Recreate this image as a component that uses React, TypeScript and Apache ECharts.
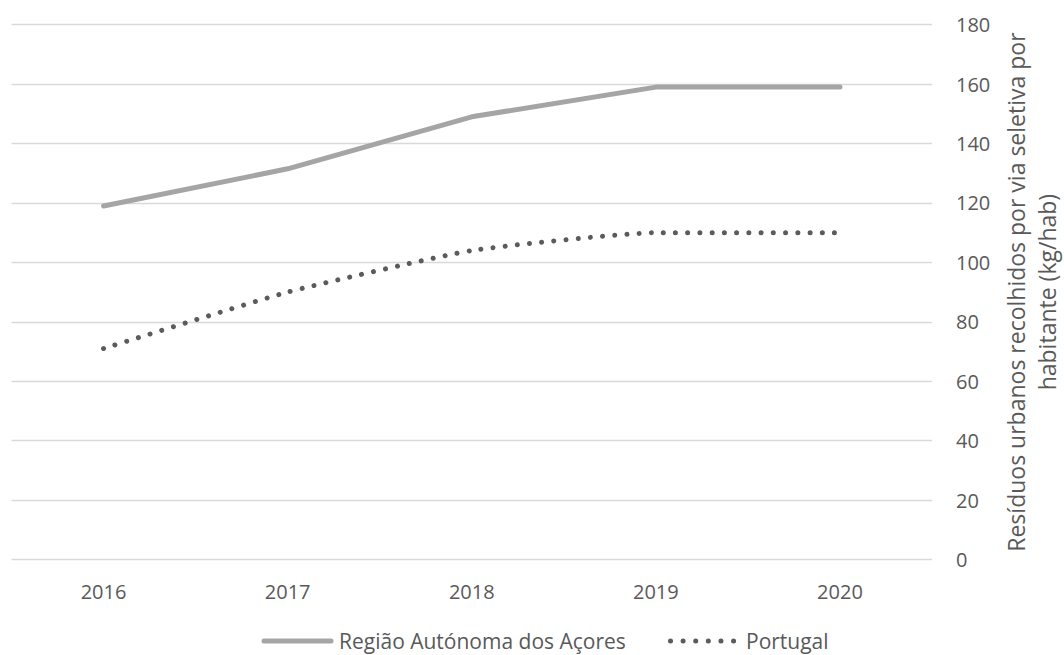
import React, { useEffect, useRef } from "react";
import * as echarts from "echarts";

const years = ["2016", "2017", "2018", "2019", "2020"];
const acoresValues = [119, 131.5, 149, 159, 159];
const portugalValues = [71, 90, 104, 110, 110];
const seriesNames = ["Região Autónoma dos Açores", "Portugal"];
const axisTitle = "Resíduos urbanos recolhidos por via seletiva por\nhabitante (kg/hab)";

const FONT = "'Open Sans', 'Noto Sans', sans-serif";
const TXT = "#595959";
const ACORES_COLOR = "#a5a5a5";
const PORTUGAL_COLOR = "#5b5b5b";

export default function App() {
  const ref = useRef<HTMLDivElement>(null);
  useEffect(() => {
    if (!ref.current) return;
    const chart = echarts.init(ref.current, undefined, { renderer: "svg" });
    const gridTop = 24.7;
    const gridBottomY = 559.5;
    chart.setOption({
      animation: false,
      backgroundColor: "#ffffff",
      textStyle: { fontFamily: FONT },
      grid: { left: 11.5, right: 132, top: gridTop, bottom: 655 - gridBottomY, containLabel: false },
      xAxis: {
        type: "category",
        data: years,
        boundaryGap: true,
        axisLine: { show: false },
        axisTick: { show: false },
        axisLabel: { color: TXT, fontSize: 20, fontFamily: FONT, margin: 22 },
      },
      yAxis: {
        type: "value",
        position: "right",
        min: 0,
        max: 180,
        interval: 20,
        axisLine: { show: false },
        axisTick: { show: false },
        splitLine: { lineStyle: { color: "#d9d9d9", width: 1.3 } },
        axisLabel: { color: TXT, fontSize: 20, fontFamily: FONT, margin: 24 },
      },
      graphic: [
        {
          type: "text",
          x: 1031,
          y: (gridTop + gridBottomY) / 2,
          rotation: Math.PI / 2,
          style: {
            text: axisTitle,
            fill: TXT,
            fontSize: 23,
            fontFamily: FONT,
            lineHeight: 31,
            align: "center",
            verticalAlign: "middle",
          },
        },
        {
          type: "line",
          shape: { x1: 264, y1: 641, x2: 331, y2: 641 },
          style: { stroke: ACORES_COLOR, lineWidth: 5, lineCap: "round" },
        },
        {
          type: "text",
          x: 339,
          y: 641,
          style: {
            text: seriesNames[0],
            fill: TXT,
            fontSize: 21,
            fontFamily: FONT,
            align: "left",
            verticalAlign: "middle",
          },
        },
        {
          type: "line",
          shape: { x1: 670.5, y1: 641, x2: 734, y2: 641 },
          style: { stroke: PORTUGAL_COLOR, lineWidth: 5, lineCap: "round", lineDash: [0.01, 12.6] },
        },
        {
          type: "text",
          x: 746,
          y: 641,
          style: {
            text: seriesNames[1],
            fill: TXT,
            fontSize: 21,
            fontFamily: FONT,
            align: "left",
            verticalAlign: "middle",
          },
        },
      ],
      series: [
        {
          name: seriesNames[0],
          type: "line",
          data: acoresValues,
          symbol: "none",
          showSymbol: false,
          lineStyle: { color: ACORES_COLOR, width: 5, cap: "round", join: "round" },
          itemStyle: { color: ACORES_COLOR },
        },
        {
          name: seriesNames[1],
          type: "line",
          data: portugalValues,
          symbol: "none",
          showSymbol: false,
          smooth: 0.15,
          lineStyle: { color: PORTUGAL_COLOR, width: 5, type: [0.01, 12.2], cap: "round" },
          itemStyle: { color: PORTUGAL_COLOR },
        },
      ],
    });
    return () => chart.dispose();
  }, []);
  return (
    <div
      ref={ref}
      style={{ position: "fixed", left: 0, top: 0, width: 1064, height: 655, background: "#fff" }}
    />
  );
}
